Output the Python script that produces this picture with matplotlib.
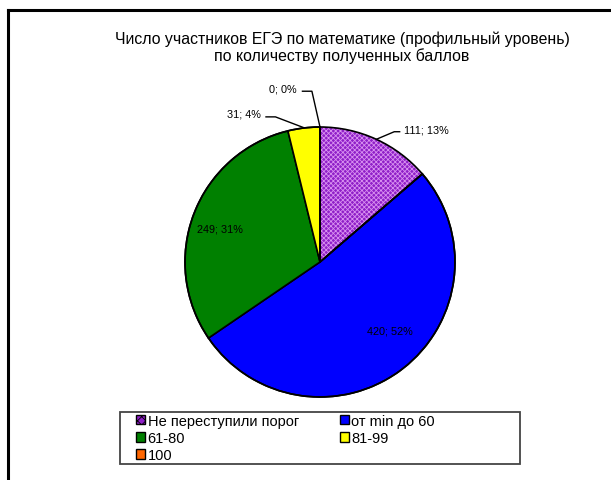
import matplotlib.pyplot as plt
from matplotlib.patches import Patch, Rectangle
from matplotlib.lines import Line2D

plt.rcParams['font.family'] = ['Liberation Sans', 'DejaVu Sans']
plt.rcParams['hatch.linewidth'] = 0.6
plt.rcParams['hatch.color'] = '#D890F0'

categories = ['Не переступили порог', 'от min до 60', '61-80', '81-99', '100']
counts = [111, 420, 249, 31, 0]
percents = [13, 52, 31, 4, 0]
colors = ['#8F1FC8', '#0000FF', '#008000', '#FFFF00', '#FF6600']

title = 'Число участников ЕГЭ по математике (профильный уровень)\nпо количеству полученных баллов'

W, H = 611, 481
fig = plt.figure(figsize=(W / 100, H / 100), dpi=100)

# pie: center (320, 263) px, radius 135 px
cx, cy, r = 320, 263, 135
ax = fig.add_axes([(cx - r) / W, (H - cy - r) / H, 2 * r / W, 2 * r / H])
wedges, _ = ax.pie(counts, colors=colors, startangle=90, counterclock=False,
                   radius=1.0, wedgeprops=dict(edgecolor='black', linewidth=1.2))
# checkered look for the first slice
wedges[0].set_hatch('xxxxxxx')
wedges[0].set_edgecolor('#D890F0')
wedges[0].set_linewidth(0)
ax.pie([counts[0], sum(counts) - counts[0]], colors=['none', 'none'], startangle=90,
       counterclock=False, radius=1.0,
       wedgeprops=dict(edgecolor='black', linewidth=1.2, fill=False))
ax.set_xlim(-1, 1)
ax.set_ylim(-1, 1)
ax.set_aspect('equal')
ax.axis('off')

labels = ['%d; %d%%' % (c, p) for c, p in zip(counts, percents)]
fs = 7.8

# outside labels with leader lines
ax.text(0.62, 0.985, labels[0], fontsize=fs, ha='left', va='center')
ax.plot([0.59, 0.55, 0.42], [0.965, 0.965, 0.91], color='black', lw=1, clip_on=False)

ax.text(-0.44, 1.10, labels[3], fontsize=fs, ha='right', va='center')
ax.plot([-0.40, -0.33, -0.12], [1.075, 1.075, 0.995], color='black', lw=1, clip_on=False)

ax.text(-0.17, 1.285, labels[4], fontsize=fs, ha='right', va='center')
ax.plot([-0.13, -0.06, 0.0], [1.265, 1.265, 1.0], color='black', lw=1, clip_on=False)

# inside labels
ax.text(0.52, -0.51, labels[1], fontsize=fs, ha='center', va='center')
ax.text(-0.74, 0.245, labels[2], fontsize=fs, ha='center', va='center')

fig.text(342 / W, 1 - 48 / H, title, ha='center', va='center', fontsize=11.4,
         linespacing=1.12)

# legend (row-wise order, box drawn separately)
handles = []
for i, (cat, col) in enumerate(zip(categories, colors)):
    if i == 0:
        handles.append(Patch(facecolor=col, edgecolor='black', hatch='xxxx', label=cat))
    else:
        handles.append(Patch(facecolor=col, edgecolor='black', label=cat))
order = [0, 2, 4, 1, 3]
leg = fig.legend(handles=[handles[i] for i in order], ncol=2, loc='upper left',
                 bbox_to_anchor=(136 / W, 1 - 415 / H), fontsize=10.5,
                 frameon=False, borderpad=0, labelspacing=0.21,
                 handlelength=0.6, handleheight=0.6, handletextpad=0.2,
                 columnspacing=2.8, borderaxespad=0)
fig.add_artist(Rectangle((120 / W, 1 - 465 / H), 400 / W, 52 / H, fill=False,
                         edgecolor='#444444', lw=1.3, transform=fig.transFigure))

# surrounding frame
fig.add_artist(Line2D([8 / W, 8 / W], [0, 1 - 11 / H], color='black', lw=2.2,
                      transform=fig.transFigure))
fig.add_artist(Line2D([8 / W, 1], [1 - 11 / H, 1 - 11 / H], color='black', lw=2.2,
                      transform=fig.transFigure))

plt.savefig('out.png', dpi=100)
